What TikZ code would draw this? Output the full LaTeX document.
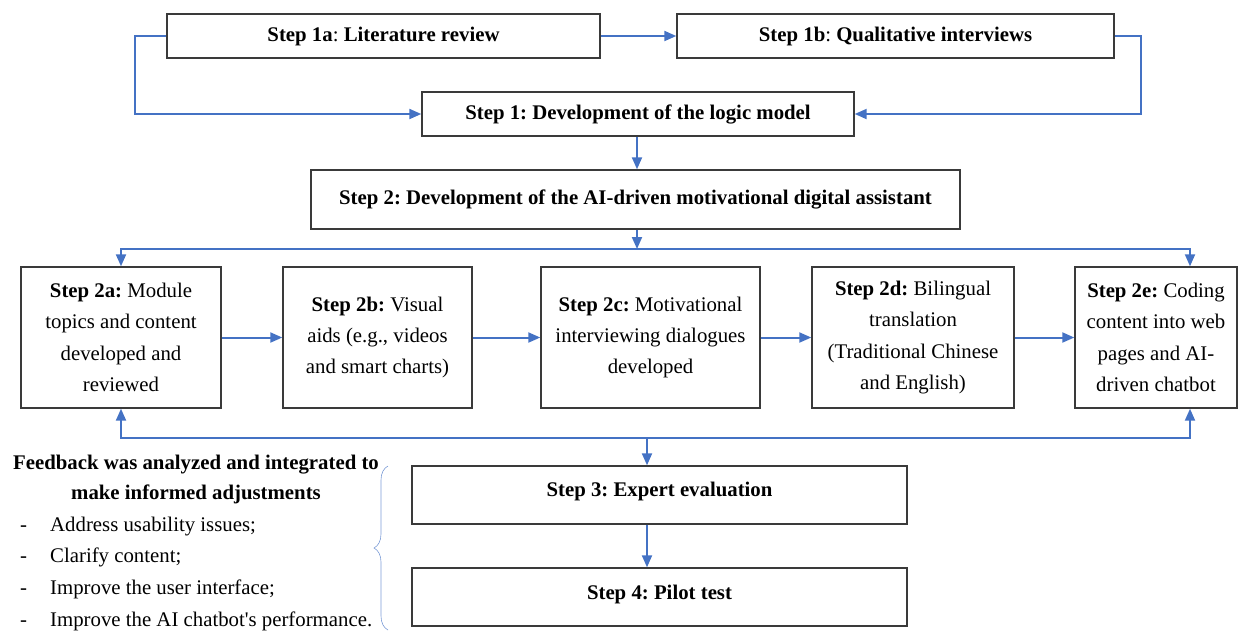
\documentclass[tikz,border=0pt]{standalone}
\usepackage{fontspec}
\setmainfont{Liberation Serif}
\usetikzlibrary{arrows.meta,decorations.pathreplacing,calc}
\definecolor{arrblue}{HTML}{4472C4}
\definecolor{boxgray}{HTML}{3A3A3A}
\frenchspacing
\begin{document}
\begin{tikzpicture}[x=1pt,y=-1pt,
  box/.style={draw=boxgray,line width=1.4pt,fill=white,inner sep=2pt,align=center,
    font=\fontsize{20.8}{31.3}\selectfont},
  tbox/.style={box,font=\fontsize{20.8}{31.3}\selectfont\bfseries},
  arr/.style={draw=arrblue,line width=2pt,-{Triangle[length=12pt,width=10pt]}}]
\useasboundingbox (0,0) rectangle (1239,630);
% top steps
\node[tbox,minimum width=433pt,minimum height=44pt] (s1a) at (383.5,36) {Step 1a\textmd{:} Literature review};
\node[tbox,minimum width=437pt,minimum height=44pt] (s1b) at (895.5,36) {Step 1b\textmd{:} Qualitative interviews};
\node[tbox,minimum width=432pt,minimum height=44pt] (s1) at (638,114) {Step 1: Development of the logic model};
\node[tbox,minimum width=649pt,minimum height=59pt] (s2) at (635.5,199.5) {Step 2: Development of the AI-driven motivational digital assistant};
% row of sub steps
\node[box,minimum width=200pt,minimum height=141pt] (s2a) at (121,337.5) {\textbf{Step 2a:} Module\\topics and content\\developed and\\reviewed};
\node[box,minimum width=189pt,minimum height=141pt] (s2b) at (377.5,337.5) {\textbf{Step 2b:} Visual\\aids (e.g., videos\\and smart charts)};
\node[box,minimum width=219pt,minimum height=141pt] (s2c) at (650.5,337.5) {\textbf{Step 2c:} Motivational\\interviewing dialogues\\developed};
\node[box,minimum width=202pt,minimum height=141pt] (s2d) at (913,337.5) {\textbf{Step 2d:} Bilingual\\translation\\(Traditional Chinese\\and English)};
\node[box,minimum width=162pt,minimum height=141pt] (s2e) at (1156,337.5) {\textbf{Step 2e:} Coding\\content into web\\pages and AI-\\driven chatbot};
% steps 3 and 4
\node[tbox,minimum width=495pt,minimum height=58pt,text depth=12pt] (s3) at (659.5,495) {Step 3: Expert evaluation};
\node[tbox,minimum width=495pt,minimum height=58pt,text depth=10pt] (s4) at (659.5,597) {Step 4: Pilot test};
% connectors top
\draw[arr] (s1a.east) -- (s1b.west);
\draw[arr] (s1a.west) -- ++(-31,0) |- (s1.west);
\draw[arr] (s1b.east) -- ++(26,0) |- (s1.east);
\coordinate (c1) at (637,0);
\draw[arr] (s1.south -| c1) -- (s2.north -| c1);
% distribution line
\coordinate (tj) at (637,249);
\draw[arr] (s2.south -| tj) -- (tj);
\coordinate (eTop) at ([xshift=34pt]s2e.north);
\coordinate (eBot) at ([xshift=34pt]s2e.south);
\draw[arr] (tj) -| (s2a.north);
\draw[arr] (tj) -| (eTop);
% row arrows
\draw[arr] (s2a.east) -- (s2b.west);
\draw[arr] (s2b.east) -- (s2c.west);
\draw[arr] (s2c.east) -- (s2d.west);
\draw[arr] (s2d.east) -- (s2e.west);
% feedback line
\coordinate (fb) at (647,438);
\draw[arr] (fb) -| (s2a.south);
\draw[arr] (fb) -| (eBot);
\draw[arr] (fb) -- (fb |- s3.north);
\draw[arr] (s3.south -| fb) -- (s4.north -| fb);
% feedback text
\node[font=\fontsize{20.8}{30}\selectfont\bfseries,align=center] (fbt) at (196,479) {Feedback was analyzed and integrated to\\make informed adjustments};
\begin{scope}[every node/.style={font=\fontsize{20.8}{31}\selectfont,anchor=base west,inner sep=0pt}]
\node (d1) at (20,531) {-}; \node (i1) at (50,531) {Address usability issues;};
\node (d2) at (20,562) {-}; \node (i2) at (50,562) {Clarify content;};
\node (d3) at (20,594) {-}; \node (i3) at (50,594) {Improve the user interface;};
\node (d4) at (20,626) {-}; \node (i4) at (50,626) {Improve the AI chatbot\textquotesingle s performance.};
\end{scope}
% brace
\draw[arrblue!70,line width=0.6pt,decorate,decoration={brace,amplitude=14pt}] (388,630) -- (388,466);
\end{tikzpicture}
\end{document}
